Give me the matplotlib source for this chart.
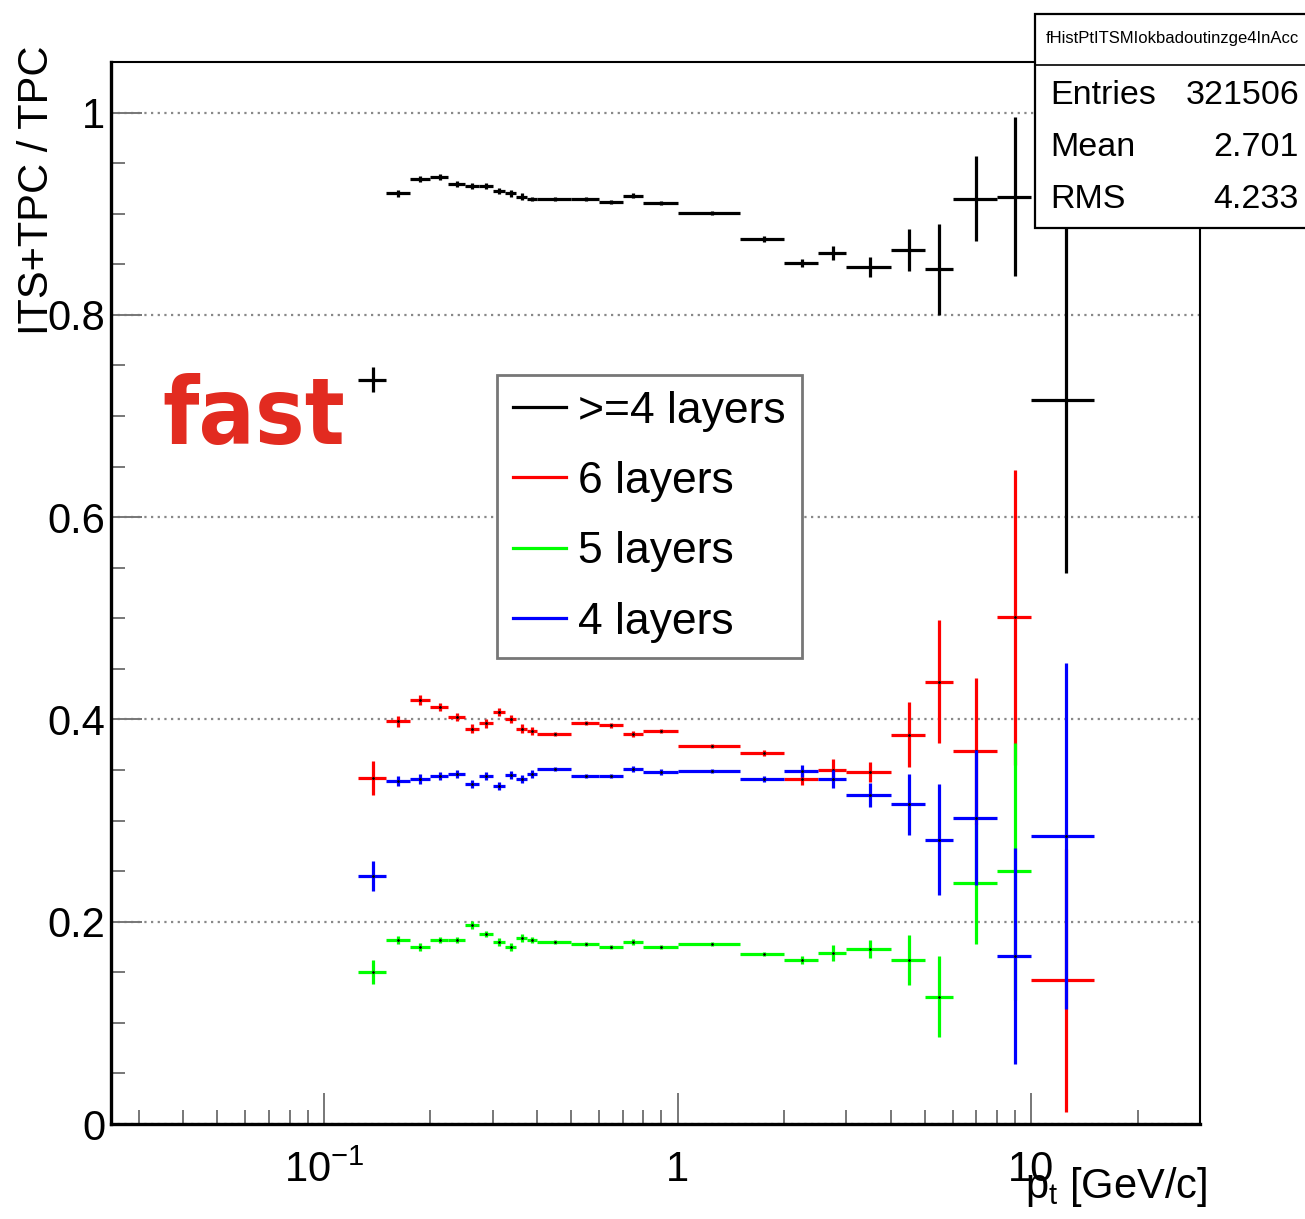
import matplotlib.pyplot as plt
import numpy as np
from matplotlib.lines import Line2D
from matplotlib.patches import Rectangle
from matplotlib.ticker import FixedLocator, FixedFormatter, MultipleLocator

plt.rcParams['font.family'] = ['Liberation Sans', 'DejaVu Sans']
plt.rcParams['mathtext.fontset'] = 'custom'
plt.rcParams['mathtext.rm'] = 'Liberation Sans'
plt.rcParams['mathtext.it'] = 'Liberation Sans'

# bin edges in pt (GeV/c)
edges = [0.125, 0.15, 0.175, 0.2, 0.225, 0.25, 0.275, 0.3, 0.325, 0.35, 0.375, 0.4,
         0.5, 0.6, 0.7, 0.8, 1.0, 1.5, 2.0, 2.5, 3.0, 4.0, 5.0, 6.0, 8.0, 10.0, 15.0]

# >=4 layers
ge4 = [0.736, 0.920, 0.934, 0.936, 0.929, 0.927, 0.927, 0.922, 0.920, 0.917, 0.915, 0.915, 0.915,
       0.912, 0.918, 0.911, 0.901, 0.875, 0.851, 0.861, 0.847, 0.864, 0.845, 0.915, 0.917, 0.716]
ge4_err = [0.012, 0.003, 0.003, 0.003, 0.003, 0.003, 0.003, 0.003, 0.003, 0.003, 0.002, 0.002, 0.002,
           0.002, 0.002, 0.002, 0.002, 0.003, 0.004, 0.007, 0.010, 0.021, 0.045, 0.042, 0.079, 0.171]

# 6 layers
l6 = [0.342, 0.398, 0.419, 0.412, 0.402, 0.391, 0.396, 0.407, 0.400, 0.391, 0.389, 0.386, 0.396,
      0.394, 0.386, 0.389, 0.374, 0.367, 0.341, 0.350, 0.348, 0.385, 0.4375, 0.369, 0.501, 0.142]
l6_err = [0.017, 0.005, 0.005, 0.004, 0.004, 0.004, 0.004, 0.004, 0.004, 0.004, 0.004, 0.002, 0.002,
          0.002, 0.003, 0.002, 0.002, 0.003, 0.006, 0.011, 0.010, 0.032, 0.061, 0.072, 0.146, 0.130]

# 5 layers (last bin empty)
l5 = [0.150, 0.182, 0.175, 0.182, 0.182, 0.197, 0.188, 0.180, 0.175, 0.184, 0.182, 0.180, 0.178,
      0.175, 0.180, 0.175, 0.178, 0.168, 0.162, 0.169, 0.173, 0.162, 0.126, 0.238, 0.250, np.nan]
l5_err = [0.012, 0.004, 0.004, 0.003, 0.003, 0.004, 0.003, 0.004, 0.004, 0.004, 0.003, 0.002, 0.002,
          0.002, 0.003, 0.002, 0.002, 0.002, 0.004, 0.008, 0.009, 0.025, 0.040, 0.060, 0.127, np.nan]

# 4 layers
l4 = [0.245, 0.339, 0.341, 0.344, 0.346, 0.336, 0.344, 0.334, 0.345, 0.341, 0.346, 0.351, 0.344,
      0.344, 0.351, 0.348, 0.349, 0.341, 0.349, 0.341, 0.325, 0.316, 0.281, 0.303, 0.166, 0.285]
l4_err = [0.015, 0.005, 0.005, 0.004, 0.004, 0.004, 0.004, 0.004, 0.004, 0.004, 0.004, 0.002, 0.002,
          0.002, 0.003, 0.003, 0.002, 0.003, 0.006, 0.009, 0.012, 0.030, 0.055, 0.067, 0.107, 0.171]

series = [
    ('>=4 layers', ge4, ge4_err, '#000000'),
    ('6 layers', l6, l6_err, '#ff0000'),
    ('5 layers', l5, l5_err, '#00ff00'),
    ('4 layers', l4, l4_err, '#0000ff'),
]

stats = [('Entries', '321506'), ('Mean', '2.701'), ('RMS', '4.233')]
hist_name = 'fHistPtITSMIokbadoutinzge4InAcc'

W, H = 1305, 1219
fig = plt.figure(figsize=(W / 100, H / 100), dpi=100)
ax = fig.add_axes([111 / W, (H - 1124) / H, 1089 / W, 1062 / H])

lo = np.array(edges[:-1])
hi = np.array(edges[1:])
centers = (lo + hi) / 2
half = (hi - lo) / 2

handles = []
for i, (name, vals, errs, col) in enumerate(series):
    ax.errorbar(centers, vals, xerr=half, yerr=errs, fmt='none', ecolor=col,
                elinewidth=2.3, capsize=0, zorder=3 + i)
    if i > 0:
        ax.plot(centers, vals, ls='none', marker='.', ms=2, color='black', zorder=3 + i)
    handles.append(Line2D([], [], color=col, lw=2.3, label=name))

ax.set_xscale('log')
ax.set_xlim(0.025, 30)
ax.set_ylim(0, 1.05)

# axis ticks, ROOT style (inside)
ax.xaxis.set_major_locator(FixedLocator([0.1, 1, 10]))
ax.xaxis.set_major_formatter(FixedFormatter([r'$\mathregular{10^{-1}}$', '1', '10']))
minor_x = [m * d for d in (0.01, 0.1, 1, 10) for m in range(2, 10)]
ax.xaxis.set_minor_locator(FixedLocator(minor_x))
ax.xaxis.set_minor_formatter(FixedFormatter([''] * len(minor_x)))
ax.yaxis.set_minor_locator(MultipleLocator(0.05))
ax.set_yticks([0, 0.2, 0.4, 0.6, 0.8, 1.0])
ax.set_yticklabels(['0', '0.2', '0.4', '0.6', '0.8', '1'])

ax.tick_params(which='both', direction='in', color='#777777', width=1.4, labelsize=30)
ax.tick_params(which='major', length=22)
ax.tick_params(which='minor', length=10)
ax.tick_params(axis='x', which='both', pad=19, top=False)
ax.tick_params(axis='y', which='both', pad=4, right=False)

ax.grid(axis='y', which='major', linestyle=(0, (1, 2)), color='#888888', linewidth=1.6)
ax.set_axisbelow(True)

for s in ('left', 'bottom'):
    ax.spines[s].set_linewidth(2.4)
for s in ('top', 'right'):
    ax.spines[s].set_linewidth(1.5)

ax.set_xlabel(r'$\mathregular{p_{t}}$ [GeV/c]', fontsize=30, ha='right', va='baseline')
ax.xaxis.set_label_coords(1.0064, -0.0697)
ax.set_ylabel('ITS+TPC / TPC', fontsize=30, ha='right', va='center', rotation_mode='anchor')
ax.yaxis.set_label_coords(-0.068, 1.016)

leg = ax.legend(handles=handles, loc='upper left', bbox_to_anchor=(497 / W, 1 - 375 / H),
                bbox_transform=fig.transFigure, fontsize=32, frameon=True, fancybox=False,
                edgecolor='#777777', framealpha=1, handlelength=1.2, handletextpad=0.28,
                labelspacing=0.66, borderpad=0.35, borderaxespad=0)
leg.get_frame().set_linewidth(2.0)
leg.set_zorder(10)

fig.text(162 / W, 1 - 444 / H, 'fast', color='#e22b20', fontsize=67, fontweight='bold',
         family=['Liberation Sans Narrow', 'DejaVu Sans'], fontstretch='condensed',
         ha='left', va='baseline')

# stats box
box = Rectangle((1035 / W, 1 - 228 / H), 300 / W, 214 / H, transform=fig.transFigure,
                facecolor='white', edgecolor='black', linewidth=1.6, zorder=20)
fig.add_artist(box)
fig.add_artist(Line2D([1035 / W, 1.0], [1 - 65 / H, 1 - 65 / H], transform=fig.transFigure,
                      color='black', linewidth=1.2, zorder=21))
fig.text(1172 / W, 1 - 39 / H, hist_name, fontsize=12, ha='center', va='center', zorder=22)
for k, (lab, val) in enumerate(stats):
    yy = 1 - (96 + 52 * k) / H
    fig.text(1050 / W, yy, lab, fontsize=24.5, ha='left', va='center', zorder=22)
    fig.text(1299 / W, yy, val, fontsize=24.5, ha='right', va='center', zorder=22)

fig.savefig('out.png', dpi=100)
